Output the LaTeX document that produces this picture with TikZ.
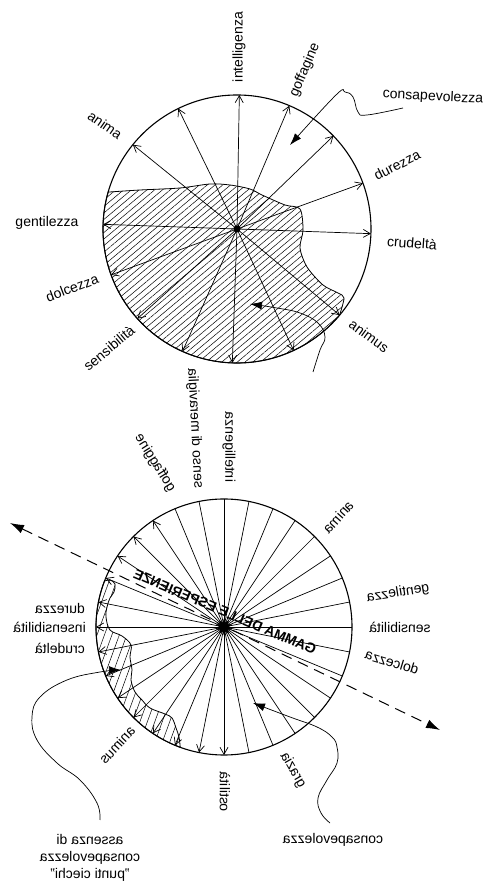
\documentclass[tikz,border=0pt]{standalone}
\usepackage{fontspec}
\setmainfont{Liberation Sans}
\usetikzlibrary{arrows.meta,patterns.meta,shapes.geometric}
\begin{document}
\begin{tikzpicture}[x=1pt,y=1pt,
		lbl/.style={font=\fontsize{14}{17}\selectfont,inner sep=0pt},
		mirror/.style={xscale=-1},
		rim/.style={line width=1.1pt},
		ray/.style={line width=0.7pt},
		rayarr/.style={ray,-{Straight Barb[length=7pt,width=8pt]}},
		wavy/.style={line width=0.7pt,-{Latex[length=12pt,width=8pt]}}]
	\useasboundingbox (0,0) rectangle (486,881);

	% upper wheel
	\coordinate (hubA) at (237,652);
	\draw[line width=0.8pt,pattern={Lines[angle=40,distance=5pt,line width=0.5pt]}]
		plot[smooth,tension=0.5] coordinates {(108.2,688.9) (140,691) (180,693) (210,697) (230,696) (250,692) (262,686)
			(285,676) (300,672) (303,651) (300,633) (307,614) (323,596) (338,588) (344,583) (339.6,565.9)}
		arc[start angle=-40,end angle=-196,radius=134] -- cycle;
	\draw[rim] (hubA) circle[radius=134];
	\foreach \a [count=\i] in {141,116,89,67,44,20,-2,178,200,222,246,268,295,320} {
			\path (hubA) ++(\a:134) coordinate (tipA\i);
			\draw[rayarr] (hubA) -- (tipA\i);
		}
	\fill (hubA) circle[radius=3.5];

	\node[lbl,rotate=90] (intA) at (239,834) {intelligenza};
	\node[lbl,rotate=67] (gofA) at (305,811) {goffagine};
	\node[lbl,rotate=-35] (aniA) at (105,756) {anima};
	\node[lbl,rotate=27] (durA) at (397,716) {durezza};
	\node[lbl,rotate=-4] (cruA) at (412,638) {crudeltà};
	\node[lbl] (genA) at (47,658) {gentilezza};
	\node[lbl,rotate=21] (dolA) at (72,593) {dolcezza};
	\node[lbl,rotate=40] (senA) at (109,533) {sensibilità};
	\node[lbl,rotate=-36] (animusA) at (369,545) {animus};
	\node[lbl,rotate=-3] (consA) at (433,784) {consapevolezza};

	\coordinate (consStartA) at (403,773);
	\coordinate (consTipA) at (290,736);
	\draw[wavy] plot[smooth,tension=0.7] coordinates {(consStartA) (367,766) (358,769) (353,784) (345,789) (336,786) (consTipA)};
	\coordinate (animStartA) at (313,509);
	\coordinate (animTipA) at (250,577);
	\draw[wavy] plot[smooth,tension=0.7] coordinates {(animStartA) (320,531) (325,544) (318,558) (300,568) (277,573) (animTipA)};

	% lower wheel (mirrored print)
	\coordinate (hubB) at (224,254);
	\draw[line width=0.8pt,pattern={Lines[angle=70,distance=7pt,line width=0.5pt]}]
		plot[smooth,tension=0.6] coordinates {(104.5,299.9) (110,301) (115,297) (114,289) (110,283) (107,274) (106,264) (110,251)
			(122,245) (131,236) (130,224) (132,211) (131,201) (135,189) (142,181) (150,173) (165,167) (172,163) (176,153)
			(179,144) (180.2,133.7)}
		arc[start angle=250,end angle=159,radius=128] -- cycle;
	\draw[rim] (hubB) circle[radius=128];
	\foreach \k in {0,1,2,17,18,...,31} {
			\path (hubB) ++({90+11.25*\k}:128) coordinate (tipB\k);
			\draw[ray] (hubB) -- (tipB\k);
		}
	\foreach \k in {3,...,16} {
			\path (hubB) ++({90+11.25*\k}:128) coordinate (tipB\k);
			\draw[rayarr] (hubB) -- (tipB\k);
		}
	\node[star,star points=10,star point ratio=1.8,fill,minimum size=17pt,inner sep=0pt] (starB) at (hubB) {};

	\coordinate (gammaL) at (10,358);
	\coordinate (gammaR) at (440,151);
	\draw[line width=1pt,dash pattern=on 11pt off 7pt,{Latex[length=14pt,width=9pt]}-{Latex[length=14pt,width=9pt]}] (gammaL) -- (gammaR);
	\node[lbl,mirror,rotate=23,font=\fontsize{14}{17}\selectfont\bfseries] (gammaB) at (225,269) {GAMMA DELLE ESPERIENZE};

	\node[lbl,mirror,rotate=90] (intB) at (229,434) {intelligenza};
	\node[lbl,mirror,rotate=87] (merB) at (195,453) {senso di meraviglia};
	\node[lbl,mirror,rotate=58] (gofB) at (155,418) {goffaggine};
	\node[lbl,mirror,rotate=-48] (aniB) at (338,364) {anima};
	\node[lbl,mirror,rotate=-9] (genB) at (398,288) {gentilezza};
	\node[lbl,mirror] (senB) at (400,254) {sensibilità};
	\node[lbl,mirror,rotate=17] (dolB) at (392,219) {dolcezza};
	\node[lbl,mirror,rotate=60] (graB) at (293,111) {grazia};
	\node[lbl,mirror,rotate=90] (ostB) at (225,89) {ostilità};
	\node[lbl,mirror,rotate=-47] (animusB) at (117,136) {animus};
	\node[lbl,mirror,anchor=west] (durB) at (85,273) {durezza};
	\node[lbl,mirror,anchor=west] (insB) at (86,254) {insensibilità};
	\node[lbl,mirror,anchor=west] (cruB) at (85,233) {crudeltà};
	\node[lbl,mirror,align=center] (assB) at (90,23) {assenza di\\consapevolezza\\"punti ciechi"};
	\node[lbl,mirror] (consB) at (333,41) {consapevolezza};

	\coordinate (consStartB) at (330,58);
	\coordinate (consTipB) at (253,178);
	\draw[wavy] plot[smooth,tension=0.7] coordinates {(consStartB) (321,68) (318,83) (327,101) (337,118) (337,134) (332,144) (317,154) (290,164) (consTipB)};
	\coordinate (assStartB) at (100,61);
	\coordinate (assTipB) at (121,211);
	\draw[wavy] plot[smooth,tension=0.7] coordinates {(assStartB) (97,78) (80,101) (57,118) (37,141) (32,164) (40,184) (67,201) (100,209) (assTipB)};
\end{tikzpicture}
\end{document}
